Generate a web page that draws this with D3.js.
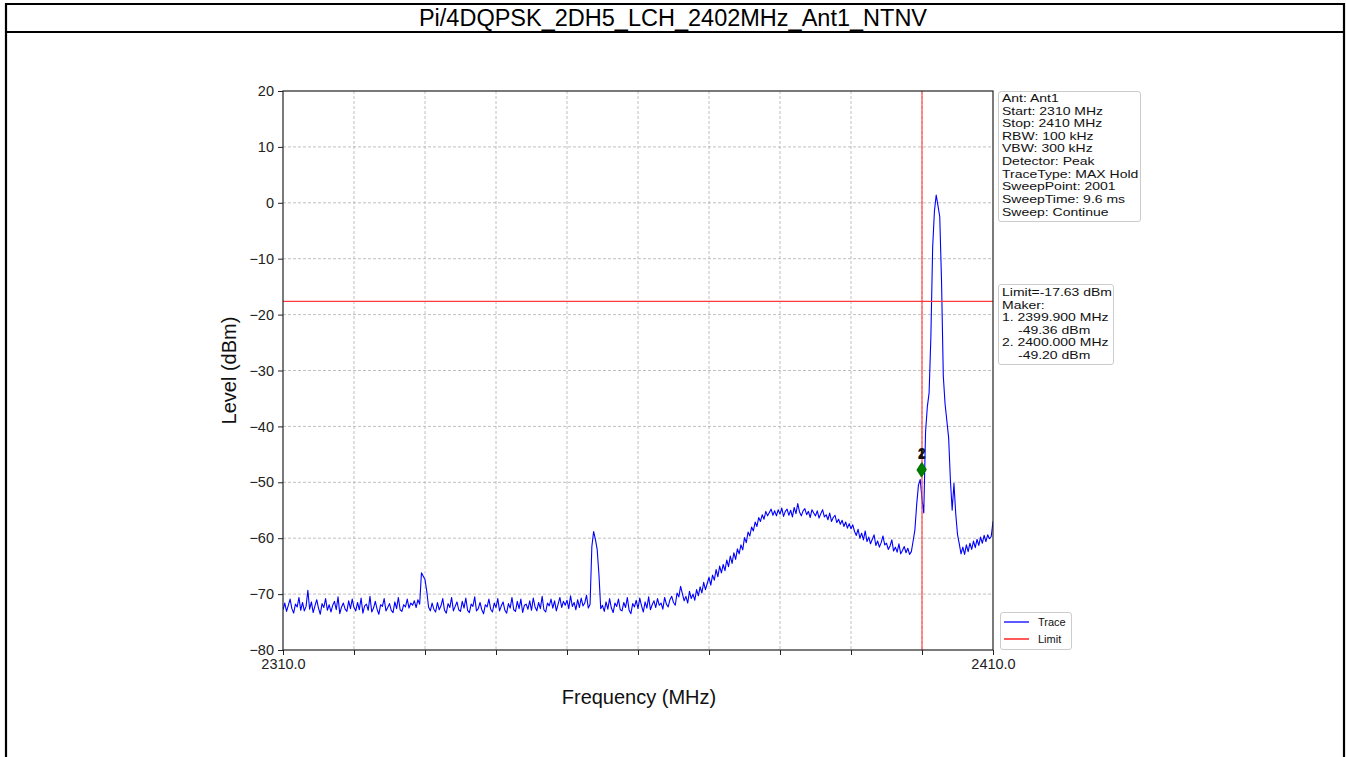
<!DOCTYPE html>
<html><head><meta charset="utf-8">
<script src="https://cdn.jsdelivr.net/npm/d3@7/dist/d3.min.js"></script>
<style>
html,body{margin:0;padding:0;background:#fff;}
svg{display:block;font-family:"Liberation Sans",Arial,sans-serif;}
</style></head>
<body>
<svg id="c" width="1346" height="757"></svg>
<script>
const titleText = "Pi/4DQPSK_2DH5_LCH_2402MHz_Ant1_NTNV";
const startMHz = 2310, stopMHz = 2410;
const yTicks = [20,10,0,-10,-20,-30,-40,-50,-60,-70,-80];
const xTicks = [2310,2320,2330,2340,2350,2360,2370,2380,2390,2400,2410];
const xTickLabels = {2310:"2310.0", 2410:"2410.0"};
const limitLevel = -17.63;
const markerLineFreq = 2400;
const markerFreqs = [2399.9, 2400.0];
const markerLevels = [-47.8, -47.7];
const markerNames = ["1","2"];
const infoLines = ["Ant: Ant1","Start: 2310 MHz","Stop: 2410 MHz","RBW: 100 kHz","VBW: 300 kHz","Detector: Peak","TraceType: MAX Hold","SweepPoint: 2001","SweepTime: 9.6 ms","Sweep: Continue"];
const limitLines = [["Limit=-17.63 dBm",0],["Maker:",0],["1. 2399.900 MHz",0],["-49.36 dBm",1],["2. 2400.000 MHz",0],["-49.20 dBm",1]];
const legendItems = [["Trace","#0000ff"],["Limit","#ff0000"]];
// trace levels, 0.25 MHz spacing from 2310 to 2410 MHz
const traceLevels = [
-72.8,-71.6,-73.1,-72.0,-70.9,-72.6,-73.4,-71.8,-72.3,-70.6,-72.9,-71.5,-73.0,-72.2,-69.3,-72.7,-71.4,-73.3,-72.1,-71.0,
-72.5,-73.6,-71.7,-72.4,-70.8,-72.9,-71.9,-73.2,-72.0,-71.3,-72.8,-70.5,-73.5,-72.3,-71.6,-72.7,-73.1,-71.2,-72.6,-70.9,
-72.4,-73.0,-71.5,-72.8,-70.7,-73.4,-72.1,-71.8,-72.9,-70.4,-73.2,-72.5,-71.3,-72.7,-73.6,-71.9,-72.2,-70.8,-73.0,-72.4,
-71.7,-72.9,-73.3,-71.4,-72.6,-70.6,-72.8,-73.1,-71.9,-72.3,-70.9,-72.5,-71.6,-72.0,-71.2,-72.4,-71.0,-71.8,-66.2,-66.8,
-67.4,-69.5,-72.3,-73.0,-71.6,-72.7,-73.2,-71.5,-72.8,-72.1,-70.8,-72.9,-73.4,-71.7,-72.4,-70.6,-73.0,-72.2,-71.4,-72.8,
-73.1,-71.3,-72.5,-70.7,-72.9,-73.3,-71.8,-72.2,-70.5,-73.0,-72.6,-71.5,-72.8,-73.5,-71.9,-72.3,-70.9,-72.7,-73.2,-71.6,
-72.4,-70.8,-73.0,-72.1,-71.4,-72.9,-73.4,-71.7,-72.5,-70.6,-72.8,-73.1,-71.3,-72.6,-70.9,-73.3,-72.0,-71.8,-72.7,-71.2,
-72.9,-70.7,-72.3,-73.0,-71.5,-72.6,-70.4,-72.8,-73.2,-71.6,-72.1,-70.9,-72.5,-71.2,-73.0,-71.8,-70.6,-72.4,-71.3,-72.0,
-71.1,-72.6,-70.3,-72.2,-71.5,-72.8,-71.0,-72.4,-70.7,-72.1,-71.6,-70.2,-72.5,-71.8,-61.5,-58.8,-60.2,-62.0,-66.5,-72.6,
-72.0,-73.1,-71.4,-72.7,-70.8,-72.5,-73.3,-71.6,-72.2,-70.9,-72.8,-73.0,-71.5,-72.4,-70.6,-72.9,-73.5,-71.7,-72.3,-71.1,
-72.6,-70.7,-72.1,-73.2,-71.4,-72.5,-70.5,-72.8,-71.9,-71.2,-72.4,-70.8,-72.0,-71.6,-72.7,-70.6,-71.8,-72.3,-71.0,-70.4,
-71.5,-72.0,-69.8,-70.5,-68.6,-69.9,-71.2,-70.4,-71.6,-69.5,-70.8,-70.0,-71.1,-69.2,-70.3,-68.7,-69.8,-67.9,-69.2,-68.1,
-67.0,-68.4,-66.6,-67.5,-65.6,-66.9,-65.0,-66.2,-64.7,-65.8,-63.9,-65.1,-63.2,-64.5,-62.6,-63.8,-61.9,-62.8,-61.2,-62.1,
-59.9,-60.8,-58.9,-59.6,-58.0,-58.7,-57.1,-57.9,-56.3,-57.0,-55.8,-56.6,-55.2,-56.0,-55.4,-54.8,-55.9,-55.1,-56.0,-54.9,
-55.7,-54.6,-56.1,-55.2,-54.8,-55.9,-55.0,-56.2,-54.5,-55.6,-53.8,-55.3,-56.0,-55.1,-54.7,-55.8,-55.2,-56.3,-54.9,-55.5,
-56.0,-55.1,-56.4,-55.6,-54.9,-56.2,-55.8,-56.7,-55.5,-57.0,-56.3,-55.9,-57.2,-56.6,-57.5,-56.8,-57.9,-57.1,-58.2,-57.4,
-58.3,-57.6,-58.8,-59.5,-58.4,-60.0,-59.1,-60.3,-58.7,-60.6,-59.8,-61.0,-60.2,-59.4,-61.3,-60.5,-61.6,-60.8,-59.6,-61.2,
-60.9,-62.0,-61.4,-60.3,-62.3,-61.6,-62.5,-61.0,-62.8,-62.2,-61.5,-62.6,-61.8,-62.9,-62.4,-60.5,-58.5,-54.0,-50.5,-49.5,
-53.0,-55.5,-41.0,-36.5,-34.0,-24.0,-8.0,-1.5,1.4,-0.5,-2.5,-14.0,-31.0,-36.0,-39.0,-42.0,-49.6,-55.0,-50.2,-55.6,
-59.3,-61.0,-62.8,-61.6,-62.9,-61.2,-62.4,-60.9,-62.0,-60.5,-61.7,-60.2,-61.3,-59.8,-60.9,-59.5,-60.6,-59.4,-60.1,-59.7,
-57.0
];

const svg = d3.select("#c");
const W = 1346, H = 757;
const m = {left:283, right:993, top:91, bottom:650};

// table frame
svg.append("rect").attr("x",0).attr("y",0).attr("width",W).attr("height",H).attr("fill","#fff");
const frame = svg.append("g").attr("stroke","#000").attr("stroke-width",2.2);
frame.append("line").attr("x1",6).attr("x2",1344).attr("y1",4).attr("y2",4);
frame.append("line").attr("x1",6).attr("x2",1344).attr("y1",32).attr("y2",32);
frame.append("line").attr("x1",6).attr("x2",6).attr("y1",3).attr("y2",H);
frame.append("line").attr("x1",1344).attr("x2",1344).attr("y1",3).attr("y2",H);
svg.append("text").attr("x",673).attr("y",26).attr("text-anchor","middle")
  .attr("font-size",23.5).attr("fill","#000").text(titleText);

const x = d3.scaleLinear().domain([startMHz, stopMHz]).range([m.left, m.right]);
const y = d3.scaleLinear().domain([-80, 20]).range([m.bottom, m.top]);

// grid
const grid = svg.append("g").attr("stroke","#b0b0b0").attr("stroke-width",0.8).attr("stroke-dasharray","3,2");
grid.selectAll("line.gx").data(xTicks.slice(1,-1)).enter().append("line")
  .attr("x1",d=>x(d)).attr("x2",d=>x(d)).attr("y1",m.top).attr("y2",m.bottom);
grid.selectAll("line.gy").data(yTicks.slice(1,-1)).enter().append("line")
  .attr("y1",d=>y(d)).attr("y2",d=>y(d)).attr("x1",m.left).attr("x2",m.right);

// axes
const fmtY = d => d < 0 ? "\u2212" + Math.abs(d) : String(d);
const yAxis = d3.axisLeft(y).tickValues(yTicks).tickFormat(fmtY).tickSize(5).tickPadding(4);
const xAxis = d3.axisBottom(x).tickValues(xTicks).tickFormat(d => xTickLabels[d] || "").tickSize(5).tickPadding(4);
const gy = svg.append("g").attr("transform",`translate(${m.left},0)`).call(yAxis);
const gx = svg.append("g").attr("transform",`translate(0,${m.bottom})`).call(xAxis);
[gx,gy].forEach(g=>{
  g.select(".domain").remove();
  g.selectAll(".tick line").attr("stroke","#222").attr("stroke-width",1);
  g.selectAll(".tick text").attr("font-size",14.5).attr("fill","#222")
   .attr("font-family","'Liberation Sans',Arial,sans-serif");
});

// trace
const n = traceLevels.length;
const step = (stopMHz - startMHz) / (n - 1);
const pts = traceLevels.map((v,i)=>[startMHz + i*step, v]);
const clipId = "plotclip";
svg.append("clipPath").attr("id",clipId).append("rect")
  .attr("x",m.left).attr("y",m.top).attr("width",m.right-m.left).attr("height",m.bottom-m.top);
const plot = svg.append("g").attr("clip-path",`url(#${clipId})`);
plot.append("path").datum(pts)
  .attr("d", d3.line().x(d=>x(d[0])).y(d=>y(d[1])))
  .attr("fill","none").attr("stroke","#0000ff").attr("stroke-width",1.1).attr("stroke-linejoin","round");

// limit lines
plot.append("line").attr("x1",m.left).attr("x2",m.right).attr("y1",y(limitLevel)).attr("y2",y(limitLevel))
  .attr("stroke","#ff3b3b").attr("stroke-width",1.1);
plot.append("line").attr("x1",x(markerLineFreq)).attr("x2",x(markerLineFreq)).attr("y1",m.top).attr("y2",m.bottom)
  .attr("stroke","#ff3b3b").attr("stroke-width",1.1);

// markers
markerFreqs.forEach((f,i)=>{
  const cx = x(f), cy = y(markerLevels[i]);
  svg.append("path").attr("d",`M${cx},${cy-7} L${cx+4.5},${cy} L${cx},${cy+7} L${cx-4.5},${cy} Z`)
    .attr("fill","#008000").attr("stroke","#006400").attr("stroke-width",0.6);
});
const mlab = svg.append("text").attr("font-size",14).attr("font-weight","bold").attr("fill","#111").attr("text-anchor","middle");
markerFreqs.forEach((f,i)=>{
  mlab.append("tspan").attr("x",x(f)).attr("y",y(markerLevels[i])-11).text(markerNames[i]);
});

// spines
svg.append("rect").attr("x",m.left).attr("y",m.top).attr("width",m.right-m.left).attr("height",m.bottom-m.top)
  .attr("fill","none").attr("stroke","#222").attr("stroke-width",1.2);

// axis titles
svg.append("text").attr("x",(m.left+m.right)/2 + 1).attr("y",704).attr("text-anchor","middle")
  .attr("font-size",20).attr("fill","#111").text("Frequency (MHz)");
svg.append("text").attr("transform",`translate(236,${(m.top+m.bottom)/2}) rotate(-90)`).attr("text-anchor","middle")
  .attr("font-size",20).attr("fill","#111").text("Level (dBm)");

// boxes
function box(x0,y0,w,h){
  svg.append("rect").attr("x",x0).attr("y",y0).attr("width",w).attr("height",h).attr("rx",2.5)
    .attr("fill","#fff").attr("stroke","#cccccc").attr("stroke-width",1);
}
const boxFont = 11.8, boxStretch = 14 / 11.8;
function multiline(x0, y0, lines, indent){
  const g = svg.append("g").attr("transform",`translate(${x0},0) scale(${boxStretch},1)`);
  lines.forEach((ln,i)=>{
    const txt = Array.isArray(ln) ? ln[0] : ln;
    const ind = Array.isArray(ln) && ln[1];
    g.append("text").attr("font-size",boxFont).attr("fill","#111")
      .attr("x", (ind ? indent : 0) / boxStretch).attr("y", y0 + i*12.62).text(txt);
  });
}
box(998.5,91.5,142,130);
multiline(1002, 102, infoLines, 0);
box(998.5,284.5,115,80);
multiline(1002, 296, limitLines, 16);

// legend
box(1000.5,612.5,71,37);
legendItems.forEach((it,i)=>{
  const ly = 622 + i*17;
  svg.append("line").attr("x1",1004).attr("x2",1029).attr("y1",ly).attr("y2",ly).attr("stroke",it[1]).attr("stroke-width",1.3);
  svg.append("text").attr("x",1038).attr("y",ly+4).attr("font-size",11).attr("fill","#111").text(it[0]);
});
</script>
</body></html>
